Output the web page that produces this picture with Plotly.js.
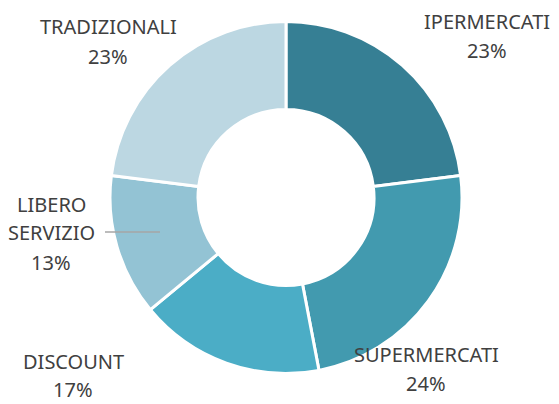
<!DOCTYPE html>
<html>
<head>
<meta charset="utf-8">
<script src="https://cdn.plot.ly/plotly-3.0.1.min.js"></script>
<style>
html,body{margin:0;padding:0;background:#fff;}
#chart{width:559px;height:404px;}
</style>
</head>
<body>
<div id="chart"></div>
<script>
// ---- data ----
const categories = ["IPERMERCATI", "SUPERMERCATI", "DISCOUNT", "LIBERO SERVIZIO", "TRADIZIONALI"];
const labelLines = [["IPERMERCATI"], ["SUPERMERCATI"], ["DISCOUNT"], ["LIBERO", "SERVIZIO"], ["TRADIZIONALI"]];
const shares = [23, 24, 17, 13, 23];
const colors = ["#367f94", "#429aaf", "#4badc6", "#93c3d4", "#bcd7e2"];

// ---- layout helpers ----
const W = 559, H = 404;
const cx = 286, cy = 197.5, R = 176;
const labelPos = [[487, 21], [426, 354], [73, 361], [51, 204], [108, 26]];
const lineGaps = [29.5, 29, 28, 29, 30];

const total = shares.reduce((a, b) => a + b, 0);
const annotations = [];
categories.forEach((c, i) => {
  const lines = labelLines[i].concat([Math.round(shares[i] / total * 100) + "%"]);
  lines.forEach((t, j) => {
    annotations.push({
      xref: "paper", yref: "paper",
      x: labelPos[i][0] / W, y: 1 - (labelPos[i][1] + j * lineGaps[i]) / H,
      xanchor: "center", yanchor: "middle",
      text: t, showarrow: false, borderpad: 0,
      font: {family: "Noto Sans, Open Sans, sans-serif", size: 20, color: "#404040"}
    });
  });
});

const trace = {
  type: "pie",
  labels: categories,
  values: shares,
  sort: false,
  direction: "clockwise",
  rotation: 0,
  hole: 0.5,
  textinfo: "none",
  hoverinfo: "label+percent",
  marker: {colors: colors, line: {color: "#ffffff", width: 3}},
  domain: {x: [(cx - R) / W, (cx + R) / W], y: [1 - (cy + R) / H, 1 - (cy - R) / H]},
  showlegend: false
};

const layout = {
  width: W, height: H,
  margin: {l: 0, r: 0, t: 0, b: 0},
  paper_bgcolor: "#ffffff",
  showlegend: false,
  annotations: annotations,
  shapes: [{
    type: "line", xref: "paper", yref: "paper",
    x0: 105 / W, x1: 160 / W, y0: 1 - 232 / H, y1: 1 - 232 / H,
    line: {color: "#a6a6a6", width: 1.5}
  }]
};

Plotly.newPlot("chart", [trace], layout, {displayModeBar: false, staticPlot: true});
</script>
</body>
</html>
